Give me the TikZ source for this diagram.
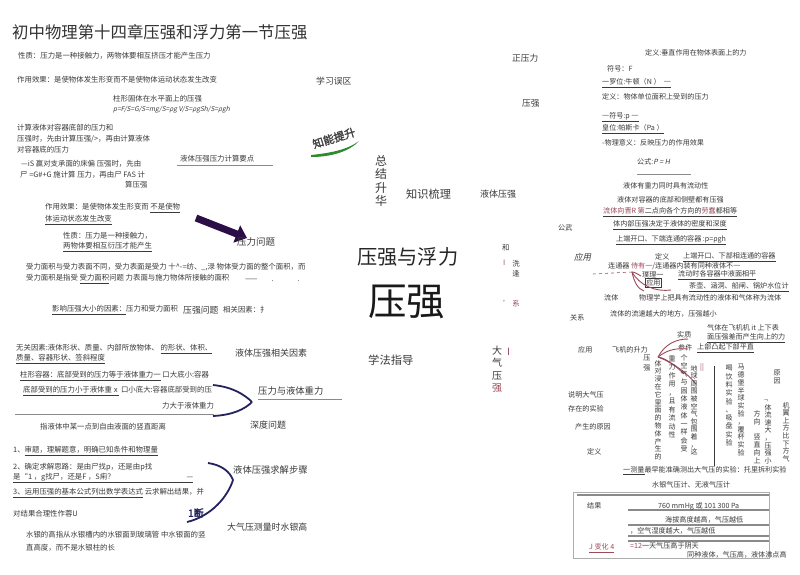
\documentclass[tikz,border=0pt]{standalone}
\usepackage{fontspec}
\setmainfont{Noto Sans CJK SC}
\newfontfamily\slfont[FakeSlant=0.2]{Noto Sans CJK SC}
\newfontfamily\bdfont[FakeBold=2]{Noto Sans CJK SC}
\usetikzlibrary{arrows.meta}
\definecolor{tc}{HTML}{3A3A3A}
\definecolor{navy}{HTML}{23235E}
\definecolor{rb}{HTML}{9B4A5A}
\definecolor{arrc}{HTML}{2A0E45}
\definecolor{grn}{HTML}{2E8B2E}
\definecolor{lg}{HTML}{8A8A8A}
\newcommand\myfs[1]{\fontsize{#1}{#1}\selectfont}
\begin{document}
\begin{tikzpicture}[x=1pt,y=-1pt,
  t/.style={anchor=west,inner sep=0pt,font=\myfs{7.4},text=tc},
  ts/.style={anchor=west,inner sep=0pt,font=\myfs{7.1},text=tc},
  tm/.style={anchor=west,inner sep=0pt,font=\myfs{#1},text=tc},
  vcol/.style 2 args={anchor=north,inner sep=0pt,align=center,font=\fontsize{#1}{#2}\selectfont,text=tc},
  rule/.style={draw=lg,line width=0.8pt},
  brace/.style={draw=navy,line width=1.8pt},
  rcurve/.style={draw=rb,line width=0.9pt}
]
\useasboundingbox (0,0) rectangle (800,574);
\fill[white] (0,0) rectangle (800,574);

% ---------- title ----------
\node[tm=16.4,text=black!80] (title) at (12,32) {初中物理第十四章压强和浮力第一节压强};

% ---------- top left ----------
\node[t] (a1) at (18,56) {性质：压力是一种接触力，两物体要相互挤压才能产生压力};
\node[t] (a2) at (17,80) {作用效果：是使物体发生形变而不是使物体运动状态发生改变};
\node[t] (a3) at (113,99) {柱形固体在水平面上的压强};
\node[anchor=west,inner sep=0pt,font=\slfont\myfs{6.6},text=tc] (a4) at (113,110) {p=F/S=G/S=mg/S=ρg V/S=ρgSh/S=ρgh};
\node[t] (a5) at (17,128) {计算液体对容器底部的压力和};
\node[t] (a6) at (17,139) {压强时，先由计算压强/>，再由计算液体};
\node[t] (a7) at (17,150) {对容器底的压力};
\node[t] (a8) at (21,164) {—iS 赢对支承面的床偏\ 压强时，先由};
\node[t] (a9) at (20,175) {尸 =G\#+G 施计算\ 压力，再由尸 FAS 计};
\node[t] (a10) at (125,185) {算压强};
\node[t] (a11) at (180,159) {液体压强压力计算要点};
\coordinate (l1a) at (177,165); \coordinate (l1b) at (273,165);
\draw[rule] (l1a) -- (l1b);

% ---------- middle left ----------
\node[t] (b1) at (45,208) {作用效果：是使物体发生形变而\ \underline{不是使物}};
\node[t] (b2) at (45,220) {\underline{体运动状态发生改变}};
\node[t] (b3) at (63,236) {性质：压力是一种接触力，};
\node[t] (b4) at (63,247) {\underline{两物体要相互衍压才能产生}};
\coordinate (arS) at (196,218); \coordinate (arE) at (247,238);
\draw[arrc,line width=7pt,-{Triangle[length=11pt,width=18pt]}] (arS) -- (arE);
\node[tm=9.5] (b5) at (237,242) {压力问题};
\node[t] (b6) at (26,267) {受力面积与受力表面不同，受力表面是受力\ 十\textasciicircum-=纺、\_,渌\ 物体受力面的整个面积，而};
\node[t] (b7) at (26,279) {受力面积是指受\ \underline{受力面积}问题\ 力表面与施力物体所接触的面积};
\node[t] (b7b) at (245,280) {——\hspace{14pt}.\hspace{24pt}.};
\node[t] (b8) at (52,310) {\underline{影响压强大小的因素：}压力和受力面积};
\node[tm=8.8] (b9) at (183,310) {压强问题};
\node[t] (b10) at (223,310) {相关因素：扌};

% ---------- lower left ----------
\node[t] (c1) at (16,349) {无关因素:液体形状、质量、内部所放物体、\ \underline{的形状、体积、}};
\node[t] (c2) at (16,359) {\underline{质量、容器形状、签斜程度}};
\node[t] (c3) at (20,376) {\underline{柱形容器：底部受到的压力等于液体重力一}\ 口大底小:容器};
\node[t] (c4) at (23,391) {\underline{底部受到的压力小于液体重ⅹ}\ 口小底大:容器底部受到的压};
\node[t] (c5) at (162,406) {力大于液体重力};
\coordinate (hl1) at (15,414); \coordinate (hl2) at (214,414);
\draw[rule,line width=1pt] (hl1) -- (hl2);
\coordinate (br1a) at (213,385); \coordinate (br1b) at (213,416); \coordinate (br1t) at (252,402);
\draw[brace] (br1a) .. controls (233,387) and (245,395) .. (br1t);
\draw[brace] (br1b) .. controls (233,415) and (245,409) .. (br1t);
\node[tm=9] (c6) at (235,353) {液体压强相关因素};
\node[tm=9.3] (c7) at (258,391) {压力与液体重力};
\coordinate (ul7a) at (258,399); \coordinate (ul7b) at (342,399);
\draw[rule,line width=1pt] (ul7a) -- (ul7b);
\node[tm=9] (c8) at (250,425) {深度问题};
\node[t] (c9) at (40,427) {指液体中某一点到自由液面的竖直距离};
\node[tm=11.3] (c10) at (368,360) {学法指导};

% ---------- bottom left ----------
\node[t] (d1) at (13,451) {1、\underline{审题，理解题意，明确已知条件和物理量}};
\node[t] (d2) at (13,467) {2、确定求解思路：是由尸找p，还是由p找};
\node[t] (d3) at (13,478) {\underline{是“1 ，g找尸，还是F ，S痢？\hspace{72pt}—}};
\node[t] (d4) at (13,493) {\underline{3、运用压强的基本公式列出数学表达式}\ 云求解出结果，并};
\node[t] (d5) at (13,514) {对结果合理性作蓉U};
\coordinate (br2a) at (208,463); \coordinate (br2b) at (187,522); \coordinate (br2t) at (233,480);
\draw[brace] (br2a) .. controls (222,465) and (230,472) .. (br2t);
\draw[brace] (br2b) .. controls (212,516) and (228,496) .. (br2t);
\node[anchor=west,inner sep=0pt,font=\bdfont\myfs{10},text=navy] (d6) at (188,513) {1断};
\node[tm=9.3] (d7) at (233,470) {液体压强求解步骤};
\node[tm=8.9] (d8) at (227,527) {大气压测量时水银高};
\node[t] (d9) at (26,535) {水银的高指从水银槽内的水银面到玻璃管\ 中水银面的竖};
\node[t] (d10) at (26,548) {直高度，而不是水银柱的长};

% ---------- centre ----------
\node[tm=8.8] (m1) at (316,81) {学习误区};
\node[tm=8.7] (m2) at (512,58) {正压力};
\node[tm=8.7] (m3) at (522,103) {压强};
\fill[grn] (311,155) .. controls (330,153) and (347,150) .. (359,141)
  .. controls (350,151) and (332,157) .. (311,157) -- cycle;
\node[rotate=17,inner sep=0pt,font=\bdfont\myfs{11},text=black!75] (badge) at (334,138) {知能提升};
\node[vcol={12}{13.5}] (m5) at (381,155) {总\\结\\升\\华};
\node[tm=11.2] (m6) at (406,194) {知识梳理};
\node[tm=9] (m7) at (480,194) {液体压强};
\node[tm=20.2,text=black!85] (m8) at (357,257) {压强与浮力};
\node[tm=38.5,text=black!90] (m9) at (368,302) {压强};
\node[t] (m10) at (502,248) {和};
\node[t,text=rb] (m11) at (503,263) {I};
\node[vcol={7.4}{10}] (m12) at (516,260) {洗\\逢};
\node[t,text=rb] (m13) at (503,304) {'\ 系};
\node[vcol={10}{12.3}] (m14) at (497,346) {大\\气\\压\\\textcolor{rb}{强}};
\node[tm=10,text=rb] (m15) at (507,352) {I};

% ---------- right top ----------
\node[ts] (r1) at (645,53) {定义:垂直作用在物体表面上的力};
\node[ts] (r2) at (607,69) {符号：F};
\node[ts] (r3) at (602,83) {\underline{一罗位:牛顿（N ）\ \ \textcolor{rb}{一}}};
\node[ts] (r4) at (602,97) {定义：物体单位面积上受到的压力};
\node[ts] (r5) at (602,117) {\underline{\textcolor{rb}{一}符号:p \textcolor{rb}{一}}};
\node[ts] (r6) at (602,129) {\underline{皇位:帕斯卡（Pa ）}};
\node[ts] (r7) at (602,143) {-物理意义：反映压力的作用效果};
\node[ts] (r8) at (637,162) {公式:{\slfont P = H}};
\coordinate (ul8a) at (637,174); \coordinate (ul8b) at (691,174);
\draw[rule,line width=1pt] (ul8a) -- (ul8b);
\node[ts] (r10) at (623,186) {液体有重力同时具有流动性};
\node[ts] (r11) at (617,200) {液体对容器的底部和侧壁都有压强};
\node[ts] (r12) at (603,212) {\underline{\textcolor{rb}{流体向晋R 第}二点向各个方向的\textcolor{rb}{劳蠢}都相等}};
\node[ts] (r13) at (558,228) {公武};
\node[ts] (r14) at (613,225) {\underline{体内部压强决定于液体的密度和深度}};
\node[ts] (r15) at (616,240) {\underline{上端开口、下端连通的容器 :p=ρgh}};
\node[anchor=west,inner sep=0pt,font=\slfont\myfs{8.5},text=tc] (r16) at (574,257) {应用};
\node[ts] (r17) at (655,257) {定义};
\node[ts] (r18) at (683,257) {\underline{上端开口、下部相连通的容器}};
\node[ts] (r19) at (608,266) {连通器 \textcolor{rb}{侍有一}/连通器内装有同种液体不\textcolor{rb}{一}};
\coordinate (ds1) at (593,274); \coordinate (ds0) at (632,272);
\draw[rb,dashed,line width=0.6pt] (ds1) -- (ds0);
\node[ts] (r21) at (642,275) {璞理一};
\node[ts] (r22) at (678,275) {\underline{流动时各容器中液面相平}};
\node[ts,draw=tc,inner sep=1pt,line width=0.5pt] (r23) at (645,283) {应用};
\node[ts] (r24) at (689,287) {\underline{茶壶、涵洞、船闸、锅炉水位计}};
\coordinate (lt1) at (641,276); \coordinate (lt2) at (644,291); \coordinate (lt3) at (671,290);
\draw[rcurve] (ds0) .. controls (636,272) and (638,275) .. (lt1);
\draw[rcurve] (ds0) .. controls (634,282) and (638,289) .. (lt2);
\draw[rcurve] (ds0) .. controls (640,286) and (656,292) .. (lt3);
\node[ts] (r25) at (604,298) {流体};
\node[ts] (r26) at (639,298) {物理学上把具有流动性的液体和气体称为流体};
\node[ts] (r27) at (570,318) {关系};
\node[ts] (r28) at (610,314) {流体的流速越大的地方，压强越小};
\node[ts] (r29) at (707,328) {气体在飞机机 it 上下表};
\node[ts] (r30) at (707,338) {\underline{面压强差而产生向上的力}};
\node[ts] (r31) at (677,335) {实质};
\node[ts] (r32) at (578,350) {应用};
\node[ts] (r33) at (612,350) {飞机的升力};
\node[ts] (r34) at (678,348) {参件};
\node[ts] (r35) at (697,348) {\underline{上部凸起下部平直}};
\node[vcol={7.1}{9.5}] (r36) at (647,355) {压\\强};
\coordinate (pj) at (658,357);
\coordinate (pc1) at (688,339); \coordinate (pc2) at (688,349); \coordinate (pc3) at (670,363);
\coordinate (pc4) at (684,374); \coordinate (pc5) at (696,384);
\draw[rcurve] (pj) .. controls (665,344) and (676,339) .. (pc1);
\draw[rcurve] (pj) .. controls (668,349) and (678,348) .. (pc2);
\draw[rcurve] (pj) .. controls (663,358) and (667,360) .. (pc3);
\draw[rcurve] (pj) .. controls (668,360) and (676,366) .. (pc4);
\draw[rcurve] (pj) .. controls (672,362) and (686,372) .. (pc5);

% vertical columns
\node[vcol={7}{7.8}] (v1) at (658,360) {体\\对\\浸\\在\\它\\里\\面\\的\\物\\体\\产\\生\\的};
\node[vcol={7}{8.5}] (v2) at (672,355) {重\\力\\作\\用\\，\\且\\有\\流\\动\\性};
\node[vcol={7}{8.3}] (v3) at (684,354) {个\\空\\气\\与\\固\\体\\液\\体\\一\\样\\会\\受};
\node[vcol={7}{7.6}] (v4) at (694,365) {地\\球\\周\\围\\被\\空\\气\\包\\围\\着\\，\\这};
\node[tm=7,text=rb] (v5) at (700,368) {||};
\coordinate (vl1) at (714,366); \coordinate (vl2) at (714,466);
\draw[draw=tc,line width=0.8pt] (vl1) -- (vl2);
\node[vcol={7}{8.3}] (v6) at (729,365) {喝\\饮\\料\\实\\验\\、\\吸\\盘\\实\\验};
\node[vcol={7}{7.8}] (v7) at (741,364) {马\\德\\堡\\半\\球\\实\\验\\，\\覆\\杯\\实\\验};
\node[vcol={7}{8.5}] (v8) at (757,410) {方\\向};
\node[vcol={7}{7.8}] (v9) at (757,434) {竖\\直\\向\\上};
\node[tm=7,text=rb] (v10) at (764,401) {¬};
\node[vcol={7}{7.6}] (v11) at (768,404) {体\\流\\速\\大\\，\\压\\强\\小};
\node[vcol={7}{8}] (v12) at (777,370) {原\\因};
\node[vcol={7}{7.6}] (v13) at (786,402) {机\\翼\\上\\方\\比\\下\\方\\气};

% ---------- right bottom ----------
\node[ts] (r50) at (568,395) {说明大气压};
\node[ts] (r51) at (568,409) {存在的实验};
\node[ts] (r52) at (575,427) {产生的原因};
\node[ts] (r53) at (587,452) {定义};
\node[ts] (r54) at (623,471) {\underline{一测量}最早能准确测出大气压的实验：托里拆利实验};
\node[ts] (r55) at (652,485) {水银气压计、无液气压计};
\draw[draw=lg!70,line width=0.9pt] (573,492) rectangle (769,558);
\coordinate (tb0a) at (577,495); \coordinate (tb0b) at (769,495);
\draw[rule,line width=1.2pt] (tb0a) -- (tb0b);
\coordinate (tb1a) at (628,510); \coordinate (tb1b) at (769,510);
\coordinate (tb2a) at (628,525); \coordinate (tb2b) at (769,525);
\coordinate (tb3a) at (628,536); \coordinate (tb3b) at (769,536);
\coordinate (tb4a) at (628,541); \coordinate (tb4b) at (769,541);
\draw[rule,line width=1.1pt] (tb1a) -- (tb1b);
\draw[rule,line width=1.1pt] (tb2a) -- (tb2b);
\draw[rule,line width=1.1pt] (tb3a) -- (tb3b);
\draw[rule,line width=1.1pt] (tb4a) -- (tb4b);
\node[ts] (r60) at (587,506) {结果};
\node[ts] (r61) at (658,506) {760 mmHg 或 101 300 Pa};
\node[ts] (r62) at (665,520) {海拔高度越高，气压越低};
\node[ts] (r63) at (630,531) {，空气湿度越大，气压越低};
\node[ts] (r64) at (630,546) {\textcolor{rb}{=12}一天气压高于阴天};
\node[ts,text=rb] (r65) at (589,548) {\underline{J 变化 4}};
\node[ts] (r66) at (687,555) {同种液体，气压高，液体沸点高};
\end{tikzpicture}
\end{document}
